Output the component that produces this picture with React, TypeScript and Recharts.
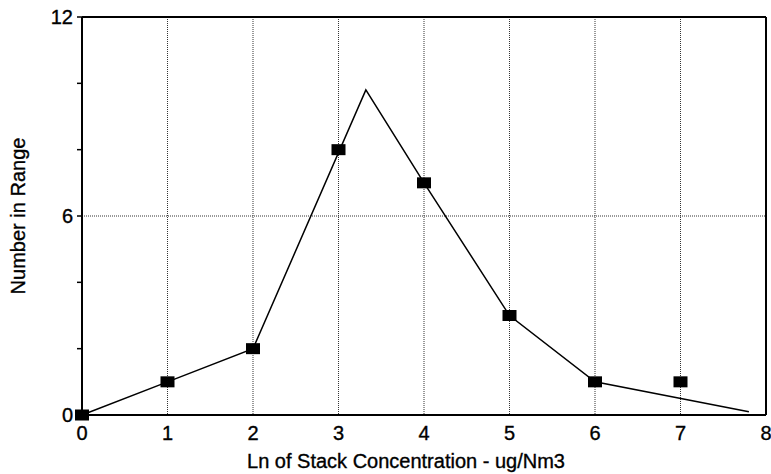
import React from 'react';
import { ComposedChart, Line, Scatter, XAxis, YAxis, CartesianGrid, ReferenceLine, Label } from 'recharts';

const lineX = [0, 1, 2, 3.32, 4, 5, 6, 7.8];
const lineY = [0, 1, 2, 9.8, 7, 3, 1, 0.1];
const pointX = [0, 1, 2, 3, 4, 5, 6, 7];
const pointY = [0, 1, 2, 8, 7, 3, 1, 1];
const xTicks = [0, 1, 2, 3, 4, 5, 6, 7, 8];
const yTicks = [0, 2, 4, 6, 8, 10, 12];
const yLabeled = [0, 6, 12];

const lineData = lineX.map((x, i) => ({ x, y: lineY[i] }));
const pointData = pointX.map((x, i) => ({ x, y: pointY[i] }));

const FONT = '"Liberation Sans", Arial, Helvetica, sans-serif';
const TEXT = { fill: '#000', stroke: '#000', strokeWidth: 0.35, fontFamily: FONT };

const Square = (props: any) => {
  const { cx, cy } = props;
  return <rect x={cx - 7} y={cy - 5.5} width={14} height={11} fill="#000" />;
};

export default function App() {
  return (
    <div style={{ position: 'absolute', left: 0, top: 0, background: '#fff' }}>
      <ComposedChart width={771} height={474} margin={{ top: 17, right: 5, bottom: 0, left: 0 }}>
        <CartesianGrid
          stroke="#333"
          strokeDasharray="1 1"
          horizontalValues={[6]}
          verticalValues={[1, 2, 3, 4, 5, 6, 7]}
        />
        <XAxis
          type="number"
          dataKey="x"
          domain={[0, 8]}
          ticks={xTicks}
          height={59}
          axisLine={{ stroke: '#000', strokeWidth: 2 }}
          tickLine={false}
          tick={{ ...TEXT, fontSize: 20 }}
          tickMargin={5}
        >
          <Label
            value="Ln of Stack Concentration - ug/Nm3"
            position="insideBottom"
            offset={6}
            dx={-18}
            style={{ ...TEXT, fontSize: 20 }}
          />
        </XAxis>
        <YAxis
          type="number"
          dataKey="y"
          domain={[0, 12]}
          ticks={yTicks}
          width={82}
          axisLine={{ stroke: '#000', strokeWidth: 2 }}
          tickLine={{ stroke: '#000', strokeWidth: 1.5 }}
          tickSize={5}
          tickMargin={4}
          tickFormatter={(v: number) => (yLabeled.includes(v) ? String(v) : '')}
          tick={{ ...TEXT, fontSize: 20 }}
        >
          <Label
            value="Number in Range"
            angle={-90}
            position="insideLeft"
            offset={18}
            style={{ ...TEXT, fontSize: 20, textAnchor: 'middle' }}
          />
        </YAxis>
        <ReferenceLine y={12} stroke="#000" strokeWidth={2} />
        <ReferenceLine x={8} stroke="#000" strokeWidth={2} />
        <Line
          data={lineData}
          dataKey="y"
          type="linear"
          stroke="#000"
          strokeWidth={1.5}
          dot={false}
          activeDot={false}
          isAnimationActive={false}
        />
        <Scatter data={pointData} dataKey="y" fill="#000" shape={<Square />} isAnimationActive={false} />
      </ComposedChart>
    </div>
  );
}
